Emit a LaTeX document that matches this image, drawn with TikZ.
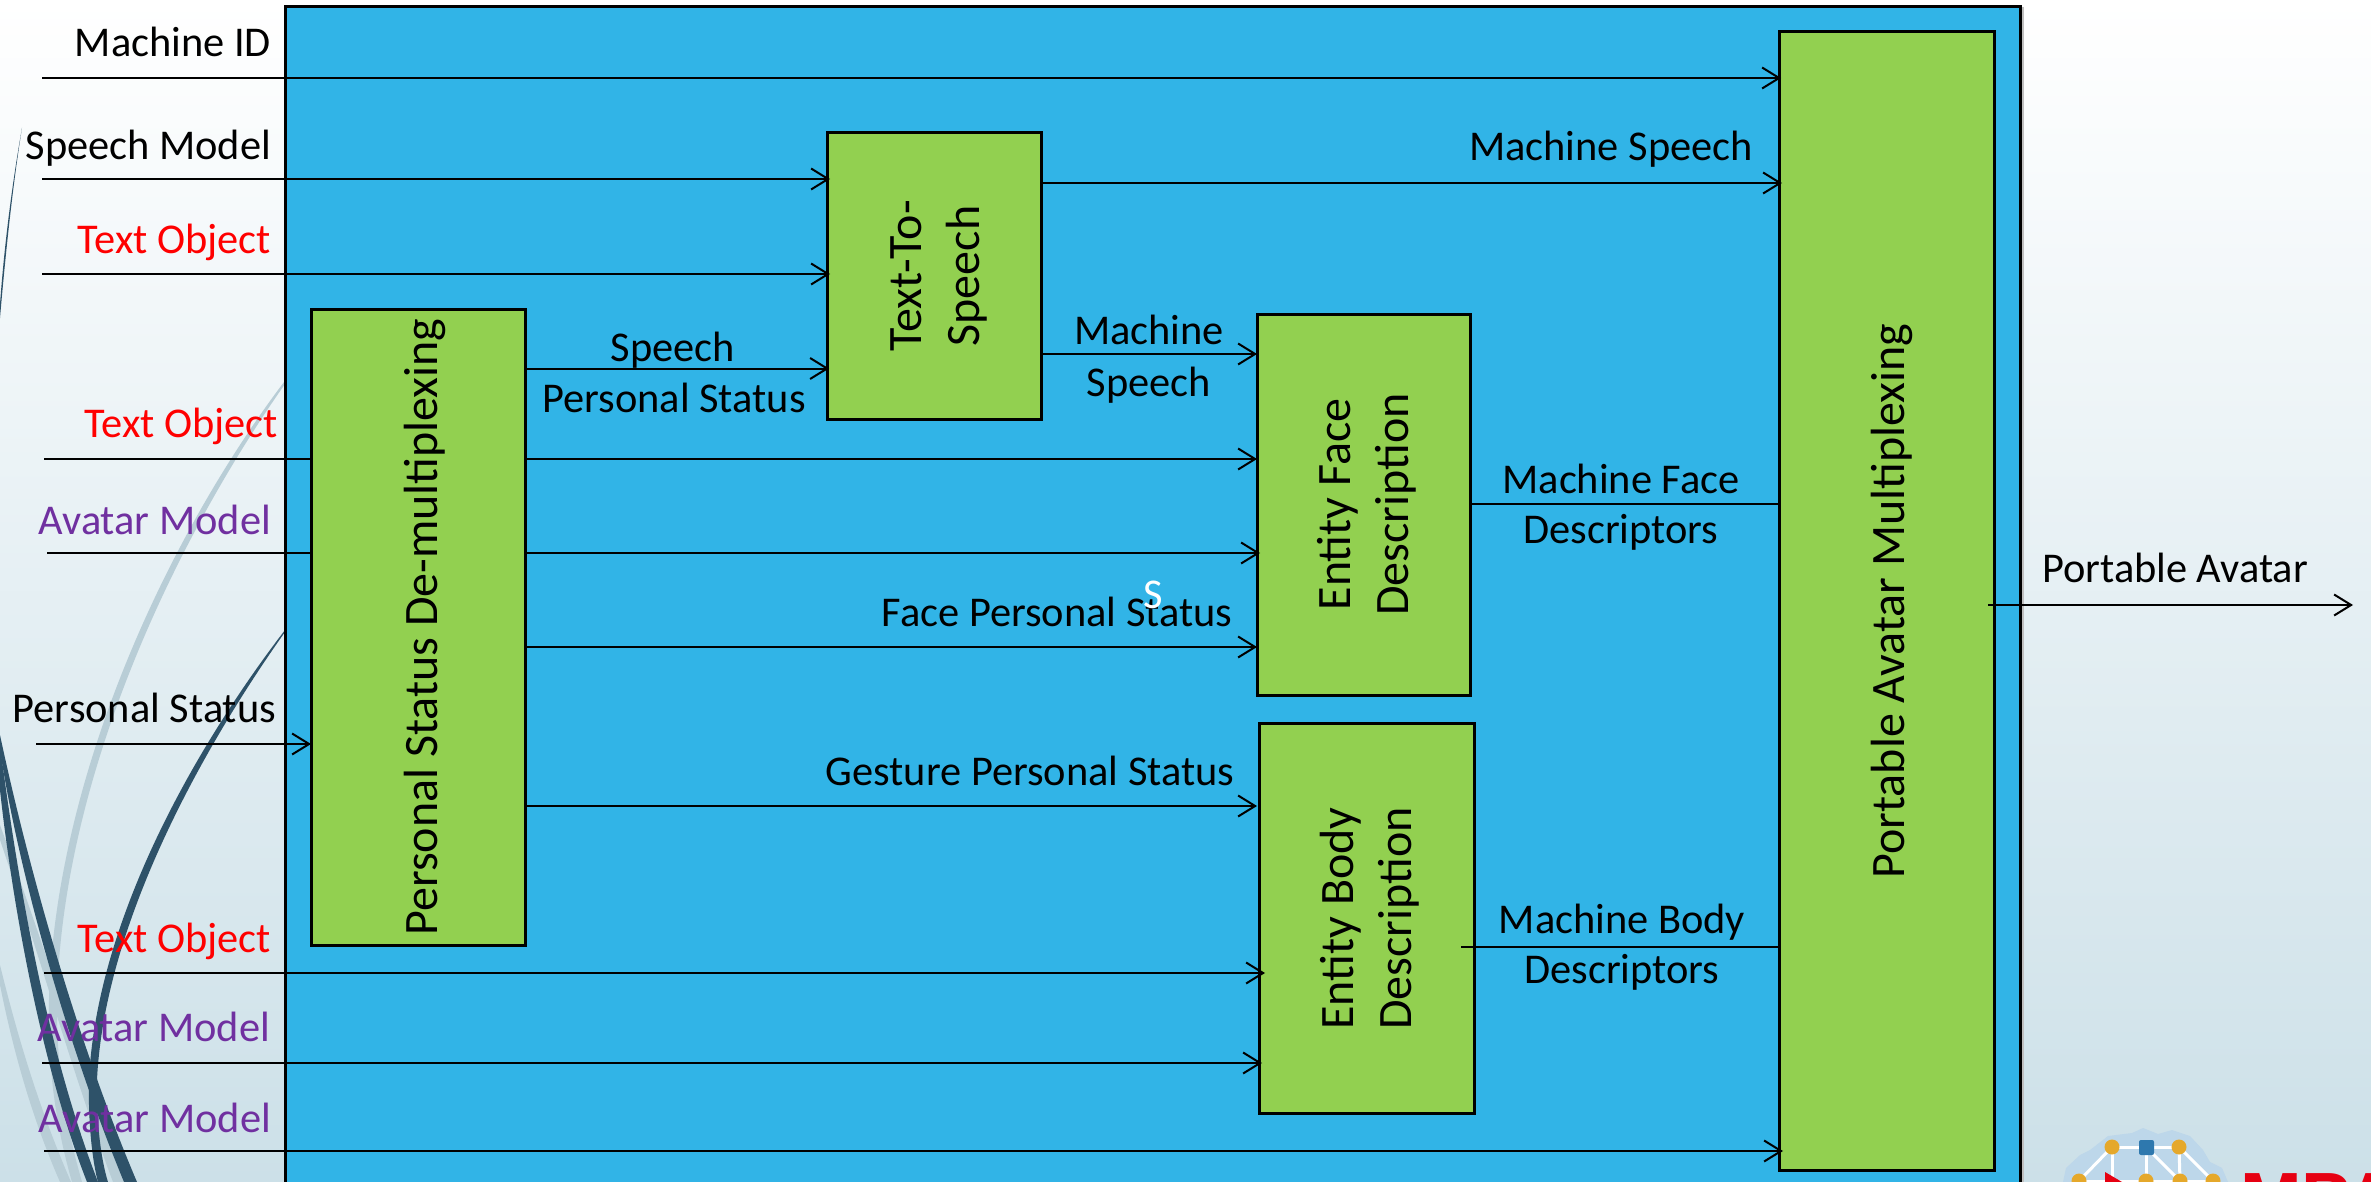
\documentclass[tikz,border=0pt]{standalone}
\usepackage{fontspec}
\setmainfont{Carlito}
\newfontfamily\logofont{Liberation Sans}[Scale=1]
\usetikzlibrary{arrows.meta,shadings}
\definecolor{panelblue}{HTML}{31B4E7}
\definecolor{boxgreen}{HTML}{92D050}
\definecolor{objred}{HTML}{FF0000}
\definecolor{modelpurple}{HTML}{7030A0}
\definecolor{swdark}{HTML}{2E5269}
\definecolor{swlight}{HTML}{B8CDD6}
\definecolor{bgbottom}{HTML}{CCE0E8}
\definecolor{logoblob}{HTML}{BDD7EA}
\definecolor{logodot}{HTML}{E5A82B}
\definecolor{logosq}{HTML}{2E78AE}
\definecolor{logored}{HTML}{E60012}
\tikzset{
  x=0.5pt,y=-0.5pt,
  every node/.style={font=\fontsize{21.2}{26}\selectfont,inner sep=0pt,outer sep=0pt},
  blockbox/.style={draw=black,line width=1.5pt,fill=boxgreen,align=center},
  wire/.style={draw=black,line width=1pt},
  arrowwire/.style={wire,-{Straight Barb[length=8.5pt,width=10.5pt,line width=1pt]}},
  inlabel/.style={anchor=base east},
  midlabel/.style={anchor=base,align=center},
  sw/.style={fill=swdark,draw=none},
  swl/.style={fill=swlight,draw=none}
}
\newcommand{\vtext}[2]{\hspace*{#1}\rotatebox{90}{\fontsize{24}{29}\selectfont\begin{tabular}{@{}c@{}}#2\end{tabular}}}
\begin{document}
\begin{tikzpicture}
\useasboundingbox (0,0) rectangle (2371,1182);
% background
\shade[top color=white,bottom color=bgbottom,draw=none] (0,0) rectangle (2371,1182);
% swooshes
\fill[swl] (0,840) .. controls (38,950) and (72,1072) .. (113,1182) -- (124,1182) .. controls (82,1068) and (46,950) .. (0,825) -- cycle;
\fill[swl] (0,985) .. controls (15,1060) and (35,1125) .. (60,1182) -- (71,1182) .. controls (45,1122) and (22,1055) .. (0,965) -- cycle;
\fill[swl] (284,382) .. controls (165,540) and (55,780) .. (49,1000) .. controls (47,1080) and (60,1140) .. (72,1182) -- (82,1182) .. controls (70,1140) and (56,1080) .. (57,1000) .. controls (62,780) and (172,545) .. (285,384) -- cycle;
\fill[swdark] (22,128) .. controls (12,190) and (5,260) .. (0,318) -- (0,304) .. controls (4,250) and (11,190) .. (22,128) -- cycle;
\fill[sw] (0,750) .. controls (20,880) and (70,1052) .. (124,1182) -- (137,1182) .. controls (80,1048) and (31,880) .. (0,735) -- cycle;
\fill[sw] (0,790) .. controls (12,900) and (40,1062) .. (87,1182) -- (98,1182) .. controls (50,1058) and (20,900) .. (0,745) -- cycle;
\fill[sw] (285,630) .. controls (187,758) and (96,928) .. (89,1080) .. controls (88,1120) and (92,1160) .. (98,1182) -- (108,1182) .. controls (101,1160) and (96,1120) .. (97,1080) .. controls (104,932) and (193,762) .. (285,632) -- cycle;
% logo
\fill[logoblob] (2063,1182) -- (2066,1168) -- (2080,1155) -- (2090,1150) -- (2108,1136) -- (2124,1134) -- (2132,1133) -- (2143,1128) -- (2158,1134) -- (2172,1130) -- (2190,1136) -- (2203,1150) -- (2210,1162) -- (2222,1168) -- (2228,1182) -- cycle;
\begin{scope}[draw=white,line width=1.5pt]
  \draw (2112,1147) -- (2179,1147);
  \draw (2112,1147) -- (2079,1181);
  \draw (2112,1147) -- (2112,1181);
  \draw (2146,1147) -- (2146,1181);
  \draw (2146,1147) -- (2180,1181);
  \draw (2179,1147) -- (2180,1181);
  \draw (2179,1147) -- (2213,1181);
  \draw (2079,1181) -- (2213,1181);
\end{scope}
\fill[logodot] (2112,1147) circle[radius=7.5] (2179,1147) circle[radius=7.5] (2079,1181) circle[radius=7.5] (2146,1181) circle[radius=7.5] (2180,1181) circle[radius=7.5] (2213,1181) circle[radius=7.5];
\fill[logosq,rounded corners=1pt] (2139,1140) rectangle (2154,1155);
\fill[logored] (2105,1172) -- (2122,1182) -- (2105,1182) -- cycle;
\node[anchor=base west,font=\logofont\bfseries\fontsize{37}{40}\selectfont,text=logored] (logotext) at (2240,1224) {MPA};
% panel
\fill[panelblue] (285,7) rectangle (2020,1190);
\draw[black!25,line width=0.6pt] (2023,7) -- (2023,1190);
\draw[black,line width=1.5pt] (285,1190) -- (285,7) -- (2020,7) -- (2020,1190);
% named line ends
\coordinate (aMid) at (42,78);
\coordinate (aSpm) at (42,179);
\coordinate (aTxt) at (42,274);
\coordinate (aTx2) at (44,459);
\coordinate (aAv2) at (47,553);
\coordinate (aPst) at (36,744);
\coordinate (aTx3) at (44,973);
\coordinate (aAv3) at (42,1063);
\coordinate (aAv4) at (44,1151);
\coordinate (aOut) at (2353,605);
% blocks
\node[blockbox,minimum width=107pt,minimum height=318pt] (demux) at (418,627) {\vtext{7.5pt}{Personal Status De-multiplexing}};
\node[blockbox,minimum width=107pt,minimum height=143pt] (tts) at (934,276) {\vtext{4.5pt}{Text-To-\\Speech}};
\node[blockbox,minimum width=106.5pt,minimum height=190.5pt] (face) at (1363.5,504.5) {\vtext{4.5pt}{Entity Face\\Description}};
\node[blockbox,minimum width=107.5pt,minimum height=195pt] (body) at (1366.5,918.5) {\vtext{4.5pt}{Entity Body\\Description}};
\node[blockbox,minimum width=107.5pt,minimum height=569pt] (mux) at (1886.5,601) {\vtext{6pt}{Portable Avatar Multiplexing}};
% wires
\draw[arrowwire] (aMid) -- ([xshift=1pt]aMid -| mux.west);
\draw[arrowwire] (aSpm) -- ([xshift=1.5pt]aSpm -| tts.west);
\draw[arrowwire] (aTxt) -- ([xshift=1.5pt]aTxt -| tts.west);
\path (demux.east |- 0,368.5) coordinate (sp1);
\draw[arrowwire] (sp1) -- ([xshift=1pt]sp1 -| tts.west);
\path (tts.east |- 0,183) coordinate (ms1);
\draw[arrowwire] (ms1) -- ([xshift=1.5pt]ms1 -| mux.west);
\path (tts.east |- 0,354) coordinate (ms2);
\draw[arrowwire] (ms2) -- (ms2 -| face.west);
\draw[wire] (aTx2) -- (aTx2 -| demux.west);
\path (demux.east |- aTx2) coordinate (tx2b);
\draw[arrowwire] (tx2b) -- (tx2b -| face.west);
\draw[wire] (aAv2) -- (aAv2 -| demux.west);
\path (demux.east |- aAv2) coordinate (av2b);
\draw[arrowwire] (av2b) -- ([xshift=1.5pt]av2b -| face.west);
\path (demux.east |- 0,647) coordinate (fps);
\draw[arrowwire] (fps) -- (fps -| face.west);
\path (demux.east |- 0,806) coordinate (gps);
\draw[arrowwire] (gps) -- (gps -| face.west);
\draw[arrowwire] (aPst) -- (aPst -| demux.west);
\draw[arrowwire] (aTx3) -- ([xshift=3pt]aTx3 -| body.west);
\draw[arrowwire] (aAv3) -- ([xshift=1.5pt]aAv3 -| body.west);
\draw[arrowwire] (aAv4) -- ([xshift=2pt]aAv4 -| mux.west);
\path (face.east |- 0,504) coordinate (mfd);
\draw[wire] (mfd) -- (mfd -| mux.west);
\coordinate (mbd) at (1461,947);
\draw[wire] (mbd) -- (mbd -| mux.west);
\coordinate (pav) at (1988,605);
\draw[arrowwire] (pav) -- (aOut);
% input labels
\node[inlabel] (lMid) at (271,57) {Machine ID};
\node[inlabel] (lSpm) at (271,160) {Speech Model};
\node[inlabel,text=objred] (lTxt) at (271,254) {Text Object};
\node[inlabel,text=objred] (lTx2) at (278,437) {Text Object};
\node[inlabel,text=modelpurple] (lAv2) at (271,534) {Avatar Model};
\node[inlabel] (lPst) at (276,722) {Personal Status};
\node[inlabel,text=objred] (lTx3) at (271,952) {Text Object};
\node[inlabel,text=modelpurple] (lAv3) at (270,1041) {Avatar Model};
\node[inlabel,text=modelpurple] (lAv4) at (271,1132) {Avatar Model};
% inner labels
\node[midlabel] (lSp) at (673,361) {Speech};
\node[midlabel] (lPs) at (674,412) {Personal Status};
\node[midlabel] (lMs) at (1611,161) {Machine Speech};
\node[midlabel] (lM1) at (1149,344) {Machine};
\node[midlabel] (lM2) at (1149,396) {Speech};
\node[midlabel] (lFp) at (1057,626) {Face Personal Status};
\node[midlabel,text=white] (lS) at (1153,608) {S};
\node[midlabel] (lGp) at (1030,785) {Gesture Personal Status};
\node[midlabel] (lMf) at (1621,493) {Machine Face};
\node[midlabel] (lD1) at (1621,543) {Descriptors};
\node[midlabel] (lMb) at (1622,933) {Machine Body};
\node[midlabel] (lD2) at (1622,983) {Descriptors};
\node[midlabel] (lPa) at (2175,582) {Portable Avatar};
\end{tikzpicture}
\end{document}
